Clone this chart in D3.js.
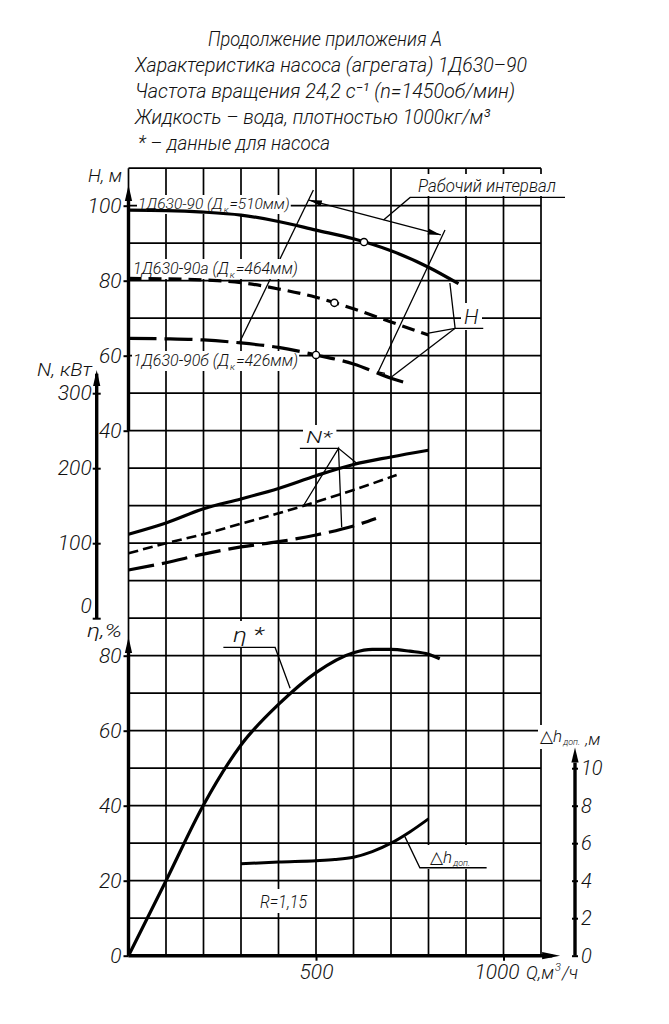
<!DOCTYPE html>
<html><head><meta charset="utf-8">
<script src="https://cdn.jsdelivr.net/npm/d3@7"></script>
<style>
html,body{margin:0;padding:0;background:#fff;}
svg{display:block;}
text{font-family:Roboto,'DejaVu Sans',sans-serif;font-style:italic;font-weight:300;fill:#111;}
</style></head><body>
<svg id="chart" width="669" height="1024"></svg>
<script>
// ---------- DATA ----------
const titleLines = ["Продолжение приложения А","Характеристика насоса (агрегата) 1Д630–90","Частота вращения 24,2 с⁻¹ (n=1450об/мин)","Жидкость – вода, плотностью 1000кг/м³","* – данные для насоса"];
const qTickValues = [500, 1000];
const hTickValues = [40, 60, 80, 100];
const nTickValues = [0, 100, 200, 300];
const etaTickValues = [0, 20, 40, 60, 80];
const dhTickValues = [0, 2, 4, 6, 8, 10];

const curveNames = ["1Д630-90", "1Д630-90а", "1Д630-90б"];
const impellerDiameters = [510, 464, 426];

const qH90  = [0,100,200,300,400,500,600,700,800,880];
const hH90  = [98.8,98.7,98.3,97.5,95.8,93.5,91.2,88.0,83.6,79.2];
const qH90a = [0,100,200,300,400,500,600,700,800];
const hH90a = [80.6,80.5,80.2,79.5,77.8,75.6,72.5,69.0,65.5];
const qH90b = [0,100,200,300,400,500,600,700,750];
const hH90b = [64.6,64.5,64.2,63.4,62.2,60.2,57.8,54.0,52.5];
const workQ = [628, 549, 500];
const workH = [90.3, 74.1, 60.2];

const qN90  = [0,100,200,300,400,500,600,700,800];
const nN90  = [112,127,146,159,173,190,205,215,224];
const qN90a = [0,100,200,300,400,500,600,715];
const nN90a = [86.5,100,112,126,140,155,171,191];
const qN90b = [0,100,200,300,400,500,600,660];
const nN90b = [64.3,74,85.5,95,102,111,123,133];

const qEta   = [0,100,200,300,400,500,600,650,700,750,800,830];
const etaVal = [0,20,40.2,56.2,67,75.5,80.8,81.7,81.7,81.2,80.4,79.2];

const qDh   = [300,400,500,550,600,650,700,750,800];
const dhVal = [4.9,5.0,5.07,5.13,5.25,5.55,6.0,6.6,7.3];

// ---------- SETUP ----------
const svg = d3.select("#chart");
const x    = d3.scaleLinear([0,1100],[128.5,541]);
const yH   = d3.scaleLinear([40,100],[430.7,205.7]);
const yN   = d3.scaleLinear([0,300],[618.2,393.2]);
const yEta = d3.scaleLinear([0,80],[955.7,655.7]);
const yDh  = d3.scaleLinear([0,10],[955.7,768.2]);

const gGrid = svg.append("g"), gLeadLow = svg.append("g"), gBox = svg.append("g"),
      gLead = svg.append("g"), gCurve = svg.append("g"), gAxis = svg.append("g"), gText = svg.append("g");

// grid
const gridQ = d3.range(0,1101,100), gridE = d3.range(0,211,10);
gGrid.selectAll("line.v").data(gridQ).join("line")
  .attr("x1",d=>x(d)).attr("x2",d=>x(d)).attr("y1",yEta(210)).attr("y2",yEta(0))
  .attr("stroke","#000").attr("stroke-width",1.7);
gGrid.selectAll("line.h").data(gridE).join("line")
  .attr("y1",d=>yEta(d)).attr("y2",d=>yEta(d)).attr("x1",x(0)).attr("x2",x(1100))
  .attr("stroke","#000").attr("stroke-width",1.7);

function poly(g, pts, w){
  g.append("path").attr("d", d3.line()(pts)).attr("fill","none").attr("stroke","#000").attr("stroke-width",w||1.3);
}
function arrowHead(g, tip, from, len, hw){
  const dx=tip[0]-from[0], dy=tip[1]-from[1], L=Math.hypot(dx,dy), ux=dx/L, uy=dy/L;
  const bx=tip[0]-ux*len, by=tip[1]-uy*len;
  g.append("path").attr("d",`M${tip[0]},${tip[1]}L${bx-uy*hw},${by+ux*hw}L${bx+uy*hw},${by-ux*hw}Z`).attr("fill","#000");
}
const pH = (q,h)=>[x(q),yH(h)], pN=(q,n)=>[x(q),yN(n)], pE=(q,e)=>[x(q),yEta(e)], pD=(q,d)=>[x(q),yDh(d)];

// ---------- LEADERS ----------
poly(gLeadLow,[pH(493,104.2),pH(297,63.7)]);
poly(gLead,[pH(844,93.5),pH(666,55.7),pH(684,55.3)]);
poly(gLead,[pH(481,101.5),pH(833,92.2)]);
arrowHead(gLead,pH(481,101.5),pH(833,92.2),13,3);
arrowHead(gLead,pH(833,92.2),pH(481,101.5),13,3);
poly(gLead,[pH(680,96.2),pH(751,102.2),pH(1164,102.2)]);
poly(gLead,[pH(857,79.4),pH(871,67.3),pH(946,67.3)]);
poly(gLead,[pH(800,66),pH(871,67.3)]);
poly(gLead,[pH(702,54.4),pH(871,67.3)]);
poly(gLead,[pN(457,226.5),pN(560,226.5),pN(608.5,206.5)]);
poly(gLead,[pN(466,149.6),pN(560,226.5),pN(568.5,121.2)]);
poly(gLead,[pE(253,82.2),pE(391,82.2),pE(431,71.3)]);
poly(gLead,[pD(955,4.69),pD(777,4.69),pD(737,6.35)]);

// ---------- CURVES ----------
function curve(qs, vs, ys, w, dash){
  const line = d3.line().x((d,i)=>x(qs[i])).y(d=>ys(d)).curve(d3.curveMonotoneX);
  const p = gCurve.append("path").attr("d", line(vs)).attr("fill","none").attr("stroke","#000")
    .attr("stroke-width",w).attr("stroke-linecap","butt");
  if(dash) p.attr("stroke-dasharray",dash);
}
curve(qH90,hH90,yH,3.2);
curve(qH90a,hH90a,yH,3.2,"13,7");
curve(qH90b,hH90b,yH,3.2,"28,8");
curve(qN90,nN90,yN,3.2);
curve(qN90a,nN90a,yN,2.6,"10,5");
curve(qN90b,nN90b,yN,3.2,"26,8");
curve(qEta,etaVal,yEta,3.2);
curve(qDh,dhVal,yDh,3);
gCurve.selectAll("circle").data(workQ).join("circle")
  .attr("cx",d=>x(d)).attr("cy",(d,i)=>yH(workH[i])).attr("r",3.6)
  .attr("fill","#fff").attr("stroke","#000").attr("stroke-width",1.4);

// ---------- AXES ----------
function styleAxis(g, fs){
  g.select(".domain").remove();
  g.attr("font-size",fs).attr("font-family",null);
  g.selectAll(".tick line").attr("stroke","#000").attr("stroke-width",2);
  g.selectAll(".tick text").attr("fill","#111");
}
const fmt = d3.format("d");
// H axis
const aH = gAxis.append("g").attr("transform",`translate(${x(0)},0)`)
  .call(d3.axisLeft(yH).tickValues(hTickValues).tickFormat(fmt).tickSize(5).tickPadding(2));
styleAxis(aH,21);
poly(gAxis,[[x(0),yH(40)],[x(0),yH(103)]],3.4);
arrowHead(gAxis,[x(0),yH(105.5)],[x(0),yH(40)],16,3.6);
// N axis
const nx = 96.7;
const aN = gAxis.append("g").attr("transform",`translate(${nx},0)`)
  .call(d3.axisLeft(yN).tickValues(nTickValues).tickFormat(fmt).tickSize(4).tickPadding(1));
styleAxis(aN,21);
aN.selectAll(".tick line").attr("x1",-4).attr("x2",4);
aN.selectAll(".tick").filter(d=>d===0).select("text").attr("dy","-0.25em");
poly(gAxis,[[nx,yN(0)],[nx,yN(326)]],3.4);
arrowHead(gAxis,[nx,yN(331)],[nx,yN(0)],16,3.6);
// eta axis
const aE = gAxis.append("g").attr("transform",`translate(${x(0)},0)`)
  .call(d3.axisLeft(yEta).tickValues(etaTickValues).tickFormat(fmt).tickSize(5).tickPadding(2));
styleAxis(aE,21);
poly(gAxis,[[x(0),yEta(0)],[x(0),yEta(82)]],3.4);
arrowHead(gAxis,[x(0),yEta(85)],[x(0),yEta(0)],16,3.6);
// dh axis
const dx0 = 575;
const aD = gAxis.append("g").attr("transform",`translate(${dx0},0)`)
  .call(d3.axisRight(yDh).tickValues(dhTickValues).tickFormat(fmt).tickSize(3).tickPadding(3));
styleAxis(aD,20);
aD.selectAll(".tick line").attr("x1",-3).attr("x2",3);
poly(gAxis,[[dx0,yDh(0)],[dx0,yDh(10.3)]],3.4);
arrowHead(gAxis,[dx0,yDh(11.1)],[dx0,yDh(0)],15,3.6);
// Q axis
const aQ = gAxis.append("g").attr("transform",`translate(0,${yEta(0)})`)
  .call(d3.axisBottom(x).tickValues(qTickValues).tickFormat(fmt).tickSize(5).tickPadding(3));
styleAxis(aQ,21);
aQ.selectAll(".tick").filter(d=>d===1000).select("text").attr("dx",-7);
poly(gAxis,[[x(0),yEta(0)],[x(1130),yEta(0)]],3.4);
arrowHead(gAxis,[x(1151),yEta(0)],[x(0),yEta(0)],18,3.6);

// ---------- TEXT ----------
function boxFor(t, pad){
  const b = t.node().getBBox(); pad = pad||2;
  gBox.append("rect").attr("x",b.x-pad).attr("y",b.y-pad+1).attr("width",b.width+2*pad).attr("height",b.height+2*pad-3).attr("fill","#fff");
}
function txt(s, X, Y, fs, len, opts){
  opts = opts||{};
  const t = gText.append("text").attr("x",X).attr("y",Y).attr("font-size",fs);
  if(opts.anchor) t.attr("text-anchor",opts.anchor);
  if(Array.isArray(s)){
    s.forEach(p=>{ const sp=t.append("tspan").text(p.t); if(p.sub){ sp.attr("font-size",p.fs||fs*0.62).attr("dy",p.dy||3);} if(p.back){sp.attr("dy",p.back);} if(p.dx){sp.attr("dx",p.dx);} });
  } else t.text(s);
  if(len) t.attr("textLength",len).attr("lengthAdjust","spacingAndGlyphs");
  if(opts.box) boxFor(t, opts.pad);
  return t;
}
// title
const titleX=[208,135,135,135,138], titleW=[234,392,380,355,192];
titleLines.forEach((s,i)=>txt(s,titleX[i],46+26*i,21,titleW[i]));

// curve labels (no textLength, sized to fit)
const labX=[138,133,133], labY=[209,274,366], labFs=[15.5,16,16];
curveNames.forEach((n,i)=>{
  txt([{t:n+" (Д"},{t:"к",sub:true,dy:4,dx:1},{t:"="+impellerDiameters[i]+"мм)",back:-4,dx:1}],labX[i],labY[i],labFs[i],null,{box:true,pad:1});
});
txt("Рабочий интервал",418,192,18,138,{box:true,pad:2});
txt("H",464,324,21,null,{box:true,pad:3});
txt("N*",306,443,17,26,{box:true,pad:3});
txt("η *",233,642,21,31,{box:true,pad:3});
txt([{t:"△h"},{t:"доп.",sub:true,fs:9,dy:0,dx:1}],430,863,17,null,{box:true,pad:3});
txt("R=1,15",260,908,18,47,{box:true,pad:3});
// axis titles
txt("H, м",88,182,19,34);
txt("N, кВт",37,376,18,55);
txt("η,%",87,637,19,35);
txt([{t:"△h"},{t:"доп.",sub:true,fs:9,dy:0,dx:1},{t:" ,м",dx:1}],540,742,17,null,{box:true,pad:2});
txt([{t:"Q,м"},{t:"3",sub:true,fs:11,dy:-8,dx:1},{t:"/ч",back:8,dx:1}],526,979,18,null);
</script>
</body></html>
